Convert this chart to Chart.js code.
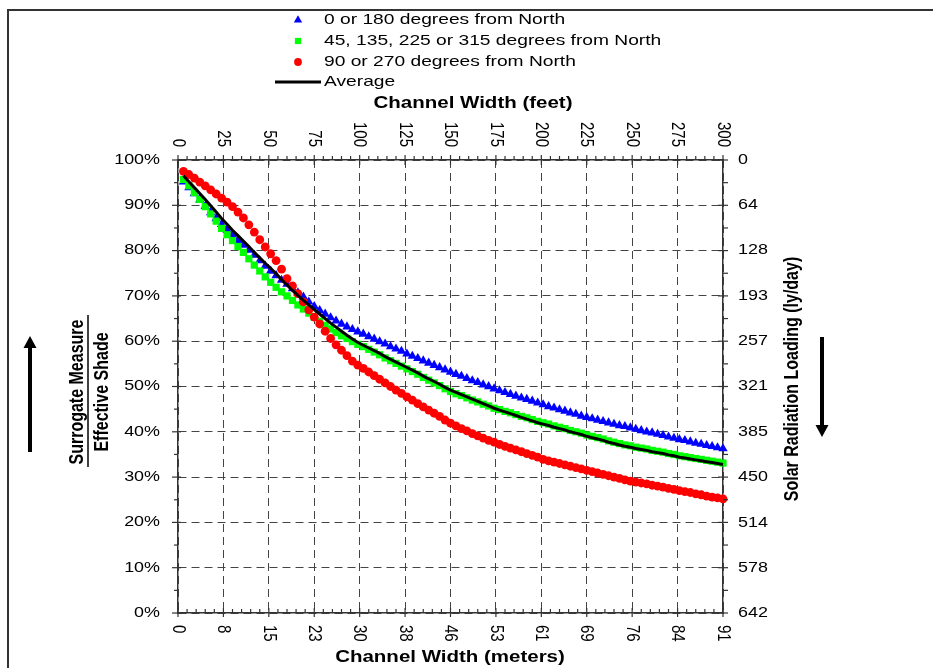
<!DOCTYPE html>
<html>
<head>
<meta charset="utf-8">
<script src="https://cdn.jsdelivr.net/npm/chart.js@4.4.1/dist/chart.umd.min.js"></script>
<style>
  html, body { margin: 0; padding: 0; background: #fff; }
  canvas { display: block; }
</style>
</head>
<body>
<canvas id="myChart" width="933" height="668"></canvas>
<script>
// 横軸：水路幅（フィート）
const widthFeet = [
  3, 6, 9, 12, 15, 18, 21, 24, 27, 30, 33, 36, 39, 42, 45, 48, 51, 54, 57, 60,
  63, 66, 69, 72, 75, 78, 81, 84, 87, 90, 93, 96, 99, 102, 105, 108, 111, 114, 117, 120,
  123, 126, 129, 132, 135, 138, 141, 144, 147, 150, 153, 156, 159, 162, 165, 168, 171, 174, 177, 180,
  183, 186, 189, 192, 195, 198, 201, 204, 207, 210, 213, 216, 219, 222, 225, 228, 231, 234, 237, 240,
  243, 246, 249, 252, 255, 258, 261, 264, 267, 270, 273, 276, 279, 282, 285, 288, 291, 294, 297, 300
];

// 0 or 180 degrees from North（%）
const shadeNorthSouth = [
  95.2, 93.9, 92.6, 91.2, 89.8, 88.4, 87.1, 85.8, 84.6, 83.5, 82.3, 81.2, 80.1, 79.0, 77.8, 76.6, 75.5, 74.5, 73.5, 72.6,
  71.6, 70.7, 69.8, 68.7, 67.7, 66.8, 66.0, 65.2, 64.5, 63.8, 63.2, 62.6, 62.1,
  61.6, 61.0, 60.5, 59.9, 59.4, 58.8, 58.3, 57.8, 57.2, 56.7, 56.2, 55.7, 55.2, 54.7, 54.2, 53.7, 53.2, 52.7, 52.3, 51.8,
  51.3, 50.9, 50.4, 50.0, 49.5, 49.1, 48.7, 48.3, 47.9, 47.5, 47.2, 46.8, 46.4, 46.0, 45.6, 45.3, 44.9, 44.6, 44.2, 43.9,
  43.5, 43.2, 42.9, 42.6, 42.3, 42.0, 41.7, 41.4, 41.2, 40.9, 40.6, 40.3, 40.0, 39.8, 39.5, 39.2, 38.9, 38.6, 38.3, 38.1,
  37.8, 37.5, 37.3, 37.0, 36.8, 36.5, 36.3
];

// 45, 135, 225 or 315 degrees from North（%）
const shadeDiagonal = [
  95.7, 94.3, 92.8, 91.3, 89.7, 88.1, 86.5, 84.9, 83.5, 82.2, 80.9, 79.6, 78.2, 76.8, 75.5, 74.2, 73.0, 71.9, 70.9, 70.0,
  69.0, 68.0, 67.1, 66.2, 65.3, 64.4, 63.5, 62.7, 61.9, 61.2, 60.6, 59.9, 59.3,
  58.8, 58.2, 57.6, 57.0, 56.3, 55.7, 55.1, 54.5, 53.9, 53.3, 52.7, 52.0, 51.4, 50.8, 50.2, 49.5, 48.9, 48.4, 48.0, 47.5,
  47.0, 46.6, 46.1, 45.7, 45.2, 44.9, 44.5, 44.2, 43.8, 43.4, 43.1, 42.7, 42.3, 42.0, 41.7, 41.3, 41.0, 40.7, 40.3, 40.0,
  39.7, 39.3, 39.0, 38.7, 38.4, 38.0, 37.7, 37.4, 37.1, 36.9, 36.6, 36.4, 36.2, 35.9, 35.7, 35.5, 35.2, 35.0, 34.7, 34.5,
  34.3, 34.1, 33.9, 33.7, 33.5, 33.3, 33.1
];

// 90 or 270 degrees from North（%）
const shadeEastWest = [
  97.5, 96.8, 96.0, 95.1, 94.3, 93.4, 92.5, 91.6, 90.7, 89.7, 88.5, 87.2, 85.7, 84.1, 82.4, 80.8, 79.3, 77.8, 75.9, 73.8,
  72.2, 70.5, 68.7, 66.9, 65.3, 63.8, 62.2, 60.6, 59.2, 58.0, 56.8, 55.6, 54.7,
  54.0, 53.2, 52.4, 51.6, 50.8, 50.0, 49.2, 48.5, 47.7, 47.0, 46.2, 45.5, 44.8, 44.1, 43.4, 42.6, 41.9, 41.3, 40.7, 40.2,
  39.6, 39.1, 38.6, 38.1, 37.7, 37.2, 36.8, 36.4, 36.0, 35.6, 35.2, 34.8, 34.4, 33.9, 33.6, 33.3, 33.0, 32.7, 32.4, 32.1,
  31.8, 31.5, 31.2, 30.9, 30.6, 30.3, 30.0, 29.7, 29.4, 29.1, 28.9, 28.7, 28.5, 28.2, 28.0, 27.8, 27.5, 27.3, 27.0, 26.8,
  26.6, 26.3, 26.1, 25.8, 25.6, 25.4, 25.2
];

// Average（%）
const shadeAverage = [
  96.5, 95.2, 93.9, 92.6, 91.3, 89.9, 88.5, 87.1, 85.8, 84.5, 83.3, 82.1, 80.9, 79.6, 78.4, 77.2, 76.1, 74.9, 73.6, 72.4,
  71.2, 70.1, 69.0, 68.0, 67.0, 66.0, 65.0, 64.0, 63.1, 62.2, 61.3, 60.5, 59.7,
  59.1, 58.5, 57.9, 57.3, 56.6, 56.0, 55.4, 54.8, 54.2, 53.6, 53.0, 52.3, 51.7, 51.1, 50.5, 49.8, 49.2, 48.7, 48.2, 47.7,
  47.2, 46.7, 46.2, 45.7, 45.2, 44.8, 44.4, 44.0, 43.6, 43.2, 42.8, 42.4, 42.0, 41.7, 41.4, 41.0, 40.7, 40.4, 40.0, 39.7,
  39.4, 39.0, 38.7, 38.4, 38.1, 37.7, 37.4, 37.1, 36.8, 36.6, 36.3, 36.1, 35.9, 35.6, 35.4, 35.2, 34.9, 34.7, 34.4, 34.2,
  34.0, 33.8, 33.6, 33.4, 33.2, 33.0, 32.8
];

// 軸の目盛りラベル
const feetTicks = [0, 25, 50, 75, 100, 125, 150, 175, 200, 225, 250, 275, 300];
const meterLabels = ['0', '8', '15', '23', '30', '38', '46', '53', '61', '69', '76', '84', '91'];
const percentTicks = [0, 10, 20, 30, 40, 50, 60, 70, 80, 90, 100];
const loadingTicks = [0, 64, 128, 193, 257, 321, 385, 450, 514, 578, 642];

const seriesNames = [
  '0 or 180 degrees from North',
  '45, 135, 225 or 315 degrees from North',
  '90 or 270 degrees from North',
  'Average'
];

const FONT = "'Liberation Sans', Arial, sans-serif";
const STRETCH = 1.28; // 元画像は横に少し引き伸ばされている

const toPoints = values => widthFeet.map((f, i) => ({ x: f, y: values[i] }));

// 文字描画（横方向の伸びと回転に対応）
function drawText(ctx, str, x, y, font, align, baseline, angle) {
  ctx.save();
  ctx.translate(x, y);
  ctx.scale(STRETCH, 1);
  if (angle) ctx.rotate(angle);
  ctx.font = font;
  ctx.textAlign = align;
  ctx.textBaseline = baseline;
  ctx.fillStyle = '#000';
  ctx.fillText(str, 0, 0);
  ctx.restore();
}

function drawMarker(ctx, style, color, x, y, r) {
  ctx.save();
  ctx.fillStyle = color;
  ctx.beginPath();
  if (style === 'triangle') {
    ctx.moveTo(x, y - r);
    ctx.lineTo(x + r * 0.866, y + r * 0.5);
    ctx.lineTo(x - r * 0.866, y + r * 0.5);
    ctx.closePath();
  } else if (style === 'rect') {
    const s = r * Math.SQRT1_2;
    ctx.rect(x - s, y - s, 2 * s, 2 * s);
  } else {
    ctx.arc(x, y, r, 0, Math.PI * 2);
  }
  ctx.fill();
  ctx.restore();
}

function drawArrow(ctx, x, yFrom, yTip) {
  const dir = yTip < yFrom ? -1 : 1;
  const headLen = 12;
  ctx.save();
  ctx.strokeStyle = '#000';
  ctx.fillStyle = '#000';
  ctx.lineWidth = 4;
  ctx.beginPath();
  ctx.moveTo(x, yFrom);
  ctx.lineTo(x, yTip - dir * headLen);
  ctx.stroke();
  ctx.beginPath();
  ctx.moveTo(x, yTip);
  ctx.lineTo(x - 6.5, yTip - dir * headLen);
  ctx.lineTo(x + 6.5, yTip - dir * headLen);
  ctx.closePath();
  ctx.fill();
  ctx.restore();
}

// 凡例用マーカー（大きさは凡例のもの）
const markerStyles = [
  { style: 'triangle', color: '#0000ff', radius: 4.8 },
  { style: 'rect', color: '#00ff00', radius: 4.4 },
  { style: 'circle', color: '#ff0000', radius: 3.9 }
];

// 目盛り・ラベル・凡例・矢印など
const decorPlugin = {
  id: 'decor',
  afterDraw(chart) {
    const ctx = chart.ctx;
    const xs = chart.scales.x;
    const ys = chart.scales.y;
    const y2 = chart.scales.y2;
    const area = chart.chartArea;

    ctx.save();
    ctx.strokeStyle = '#333';
    ctx.lineWidth = 1.2;
    const line = (x1, y1, x2, y2p) => {
      ctx.beginPath();
      ctx.moveTo(x1, y1);
      ctx.lineTo(x2, y2p);
      ctx.stroke();
    };

    // 横軸の目盛り（主：25ft、副：5ft）
    for (let f = 0; f <= 300; f += 5) {
      const px = xs.getPixelForValue(f);
      if (f % 25 === 0) {
        line(px, area.top - 5, px, area.top + 5);
        line(px, area.bottom - 5, px, area.bottom + 4);
      } else {
        line(px, area.top - 4, px, area.top);
        line(px, area.bottom - 4, px, area.bottom);
      }
    }
    // 縦軸の目盛り（主：10%、副：5%）
    for (let p = 0; p <= 100; p += 5) {
      const py = ys.getPixelForValue(p);
      if (p % 10 === 0) {
        line(area.left - 6, py, area.left + 3, py);
        line(area.right - 5, py, area.right + 5, py);
      } else {
        line(area.left - 4, py, area.left, py);
        line(area.right, py, area.right + 5, py);
      }
    }
    ctx.restore();

    // 左軸ラベル
    percentTicks.forEach(p => {
      drawText(ctx, p + '%', 160, ys.getPixelForValue(p), '14px ' + FONT, 'right', 'middle');
    });
    // 右軸ラベル
    loadingTicks.forEach(v => {
      drawText(ctx, String(v), area.right + 15, y2.getPixelForValue(v), '14px ' + FONT, 'left', 'middle');
    });
    // 上軸ラベル（フィート）
    feetTicks.forEach(f => {
      drawText(ctx, String(f), xs.getPixelForValue(f), area.top - 13, '15px ' + FONT, 'right', 'middle', Math.PI / 2);
    });
    // 下軸ラベル（メートル）
    feetTicks.forEach((f, i) => {
      drawText(ctx, meterLabels[i], xs.getPixelForValue(f), area.bottom + 12, '15px ' + FONT, 'left', 'middle', Math.PI / 2);
    });

    // 軸タイトル
    drawText(ctx, 'Channel Width (feet)', 473, 104, 'bold 16px ' + FONT, 'center', 'middle');
    drawText(ctx, 'Channel Width (meters)', 450, 658, 'bold 16px ' + FONT, 'center', 'middle');
    drawText(ctx, 'Surrogate Measure', 77, 392, 'bold 16px ' + FONT, 'center', 'middle', -Math.PI / 2);
    drawText(ctx, 'Effective Shade', 102, 392, 'bold 16px ' + FONT, 'center', 'middle', -Math.PI / 2);
    drawText(ctx, 'Solar Radiation Loading (ly/day)', 792, 379, 'bold 16px ' + FONT, 'center', 'middle', -Math.PI / 2);

    ctx.save();
    ctx.strokeStyle = '#000';
    ctx.lineWidth = 1.5;
    ctx.beginPath();
    ctx.moveTo(88, 315);
    ctx.lineTo(88, 467);
    ctx.stroke();
    ctx.restore();

    // 矢印
    drawArrow(ctx, 30, 452, 336);
    drawArrow(ctx, 822, 337, 437);

    // 凡例
    const rowY = [20, 41, 62, 82];
    markerStyles.forEach((m, i) => {
      drawMarker(ctx, m.style, m.color, 298, rowY[i], m.radius);
      drawText(ctx, seriesNames[i], 324, rowY[i], '15px ' + FONT, 'left', 'middle');
    });
    ctx.save();
    ctx.strokeStyle = '#000';
    ctx.lineWidth = 3;
    ctx.beginPath();
    ctx.moveTo(275, rowY[3]);
    ctx.lineTo(321, rowY[3]);
    ctx.stroke();
    ctx.restore();
    drawText(ctx, seriesNames[3], 324, rowY[3], '15px ' + FONT, 'left', 'middle');

    // 外枠
    ctx.save();
    ctx.strokeStyle = '#333';
    ctx.lineWidth = 2;
    ctx.beginPath();
    ctx.moveTo(8, 668);
    ctx.lineTo(8, 10);
    ctx.lineTo(933, 10);
    ctx.stroke();
    ctx.restore();
  }
};

const gridColor = '#444';
const axisBorder = { display: true, color: '#333', width: 1.5, dash: [8, 5] };

new Chart(document.getElementById('myChart'), {
  type: 'scatter',
  data: {
    datasets: [
      {
        label: seriesNames[0],
        data: toPoints(shadeNorthSouth),
        pointStyle: 'triangle',
        pointRadius: 5.4,
        pointBorderWidth: 0,
        backgroundColor: '#0000ff',
        borderColor: '#0000ff',
        order: 3,
        clip: 12
      },
      {
        label: seriesNames[1],
        data: toPoints(shadeDiagonal),
        pointStyle: 'rect',
        pointRadius: 5.1,
        pointBorderWidth: 0,
        backgroundColor: '#00ff00',
        borderColor: '#00ff00',
        order: 2,
        clip: 12
      },
      {
        label: seriesNames[2],
        data: toPoints(shadeEastWest),
        pointStyle: 'circle',
        pointRadius: 4.4,
        pointBorderWidth: 0,
        backgroundColor: '#ff0000',
        borderColor: '#ff0000',
        order: 1,
        clip: 12
      },
      {
        label: seriesNames[3],
        data: toPoints(shadeAverage),
        showLine: true,
        pointRadius: 0,
        borderColor: '#000000',
        borderWidth: 3,
        tension: 0,
        order: 0,
        clip: 12
      }
    ]
  },
  options: {
    responsive: false,
    animation: false,
    devicePixelRatio: 1,
    layout: { padding: { left: 178, right: 210, top: 160, bottom: 55 } },
    plugins: {
      legend: { display: false },
      tooltip: { enabled: false }
    },
    scales: {
      x: {
        type: 'linear',
        position: 'bottom',
        min: 0,
        max: 300,
        ticks: { display: false, stepSize: 25 },
        grid: { color: gridColor, lineWidth: 1, drawTicks: false },
        border: axisBorder
      },
      x2: {
        type: 'linear',
        axis: 'x',
        position: 'top',
        min: 0,
        max: 300,
        ticks: { display: false },
        grid: { display: false, drawTicks: false },
        border: { display: true, color: '#333', width: 1.5 }
      },
      y: {
        type: 'linear',
        position: 'left',
        min: 0,
        max: 100,
        ticks: { display: false, stepSize: 10 },
        grid: { color: gridColor, lineWidth: 1, drawTicks: false },
        border: axisBorder
      },
      y2: {
        type: 'linear',
        axis: 'y',
        position: 'right',
        min: 0,
        max: 642,
        reverse: true,
        ticks: { display: false },
        grid: { display: false, drawTicks: false },
        border: { display: true, color: '#333', width: 1.5 }
      }
    }
  },
  plugins: [decorPlugin]
});
</script>
</body>
</html>
